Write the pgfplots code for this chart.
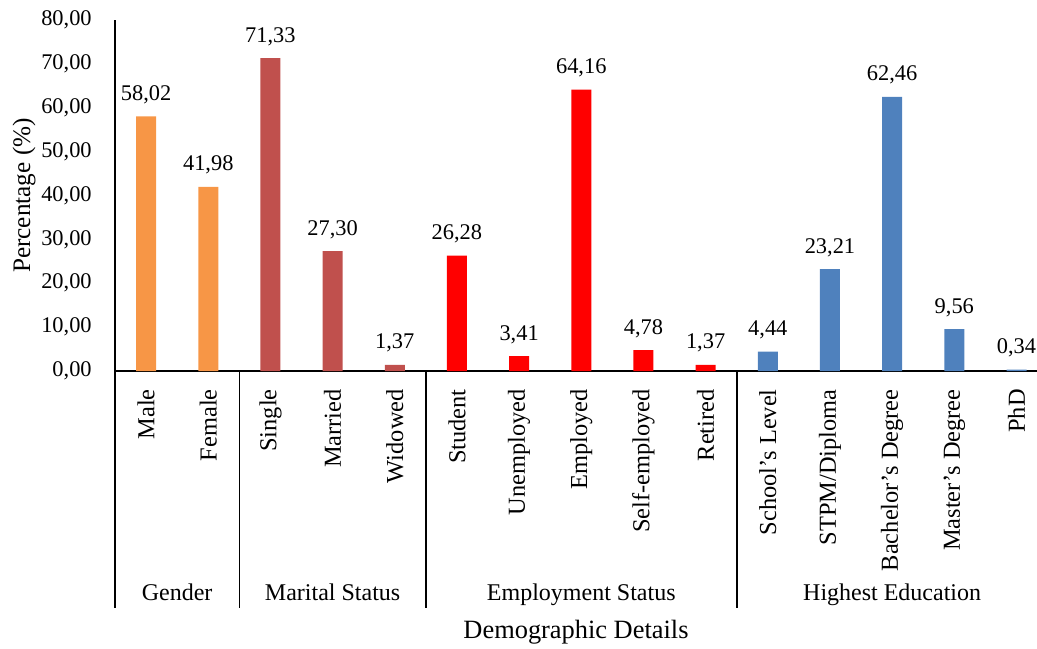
\documentclass[border=0pt]{standalone}
\usepackage{pgfplots}
\pgfplotsset{compat=1.18}
\usepackage{fontspec}
\setmainfont{Liberation Serif}
\definecolor{cOrange}{HTML}{F79646}
\definecolor{cBrown}{HTML}{C0504D}
\definecolor{cRed}{HTML}{FF0000}
\definecolor{cBlue}{HTML}{4F81BD}
\begin{document}
\begin{tikzpicture}
\path[use as bounding box] (0,0) rectangle (518.5pt,324pt);
\begin{axis}[
  at={(57.5pt,138.5pt)}, anchor=south west,
  scale only axis, width=461pt, height=175.5pt,
  xmin=-0.5, xmax=14.33, ymin=0, ymax=80,
  clip=false,
  axis x line=bottom, axis y line=left,
  axis line style={-, line width=0.8pt, black},
  ytick={0,10,...,80},
  ytick style={draw=none},
  xtick={0,...,14},
  xticklabels={Male,Female,Single,Married,Widowed,Student,Unemployed,Employed,Self-employed,Retired,School's Level,STPM/Diploma,Bachelor's Degree,Master's Degree,PhD},
  xtick style={draw=none},
  xticklabel style={yshift=-3.5pt, rotate=90, anchor=east, font=\fontsize{12.2}{14}\selectfont},
  yticklabel style={xshift=-6pt, font=\fontsize{11.2}{13}\selectfont,
    /pgf/number format/.cd, fixed, fixed zerofill, precision=2, use comma, 1000 sep={}, assume math mode=true},
  ylabel={Percentage (\%)},
  ylabel style={at={(axis description cs:-0.0985,0.5)}, anchor=center, font=\fontsize{12.6}{15}\selectfont},
  xlabel={Demographic Details},
  xlabel style={at={(axis description cs:0.5,-0.7436)}, anchor=center, font=\fontsize{13.2}{15}\selectfont},
  nodes near coords,
  point meta=y,
  every node near coord/.append style={font=\fontsize{11.2}{13}\selectfont, black, anchor=base, yshift=8pt,
    /pgf/number format/.cd, fixed, fixed zerofill, precision=2, use comma, assume math mode=true},
]
\addplot[ybar, bar width=10pt, bar shift=0pt, fill=cOrange, draw=none] coordinates {(0,58.02) (1,41.98)};
\addplot[ybar, bar width=10pt, bar shift=0pt, fill=cBrown, draw=none] coordinates {(2,71.33) (3,27.30) (4,1.37)};
\addplot[ybar, bar width=10pt, bar shift=0pt, fill=cRed, draw=none] coordinates {(5,26.28) (6,3.41) (7,64.16) (8,4.78) (9,1.37)};
\addplot[ybar, bar width=10pt, bar shift=0pt, fill=cBlue, draw=none] coordinates {(10,4.44) (11,23.21) (12,62.46) (13,9.56) (14,0.34)};
\draw[line width=0.8pt] (axis cs:-0.5,0) -- ++(0pt,-118.5pt);
\draw[line width=0.8pt] (axis cs:1.5,0) -- ++(0pt,-118.5pt);
\draw[line width=0.8pt] (axis cs:4.5,0) -- ++(0pt,-118.5pt);
\draw[line width=0.8pt] (axis cs:9.5,0) -- ++(0pt,-118.5pt);
\node[anchor=base, font=\fontsize{12}{14}\selectfont] at ([yshift=-114.5pt]axis cs:0.5,0) {Gender};
\node[anchor=base, font=\fontsize{12}{14}\selectfont] at ([yshift=-114.5pt]axis cs:3,0) {Marital Status};
\node[anchor=base, font=\fontsize{12}{14}\selectfont] at ([yshift=-114.5pt]axis cs:7,0) {Employment Status};
\node[anchor=base, font=\fontsize{12}{14}\selectfont] at ([yshift=-114.5pt]axis cs:12,0) {Highest Education};
\end{axis}
\end{tikzpicture}
\end{document}
